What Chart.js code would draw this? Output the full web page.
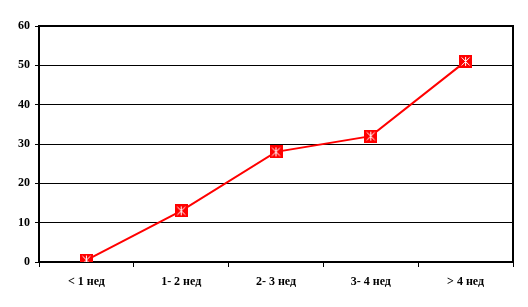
<!DOCTYPE html>
<html>
<head>
<meta charset="utf-8">
<script src="https://cdn.jsdelivr.net/npm/chart.js"></script>
<style>
  html, body { margin: 0; padding: 0; background: #fff; }
  #wrap { width: 528px; height: 307px; }
</style>
</head>
<body>
<div id="wrap"><canvas id="chart" width="528" height="307"></canvas></div>
<script>
const categories = ['< 1 нед', '1- 2 нед', '2- 3 нед', '3- 4 нед', '> 4 нед'];
const values = [0.5, 13, 28, 32, 51];
const yTicks = [0, 10, 20, 30, 40, 50, 60];

// red square marker with white star, like the old Excel style
function makeMarker() {
    const c = document.createElement('canvas');
    c.width = 13; c.height = 13;
    const g = c.getContext('2d');
    g.fillStyle = '#ff0000';
    g.fillRect(0, 0, 13, 13);
    g.strokeStyle = '#ffffff';
    g.lineWidth = 1;
    g.beginPath();
    g.moveTo(6.5, 2); g.lineTo(6.5, 11);
    g.moveTo(2.5, 2.5); g.lineTo(10.5, 10.5);
    g.moveTo(10.5, 2.5); g.lineTo(2.5, 10.5);
    g.stroke();
    return c;
}

const frame = {
    id: 'frame',
    afterDatasetsDraw(chart) {},
    beforeDatasetsDraw(chart) {
        const a = chart.chartArea;
        const ctx = chart.ctx;
        ctx.save();
        ctx.strokeStyle = '#000';
        ctx.lineWidth = 2;
        ctx.beginPath();
        ctx.moveTo(a.left, a.top);
        ctx.lineTo(a.right, a.top);
        ctx.lineTo(a.right, a.bottom);
        ctx.stroke();
        ctx.restore();
    }
};

const font = { family: '"Liberation Serif", "Times New Roman", serif', size: 12, weight: 'bold' };

new Chart(document.getElementById('chart'), {
    type: 'line',
    data: {
        labels: categories,
        datasets: [{
            data: values,
            borderColor: '#ff0000',
            borderWidth: 2,
            pointStyle: makeMarker(),
            tension: 0
        }]
    },
    options: {
        responsive: false,
        animation: false,
        layout: { padding: { top: 26, right: 15, left: 0, bottom: 0 } },
        plugins: { legend: { display: false }, tooltip: { enabled: false } },
        scales: {
            x: {
                offset: true,
                grid: { offset: true, drawOnChartArea: false, drawTicks: true, tickLength: 5, color: '#000', lineWidth: 1 },
                border: { color: '#000', width: 2 },
                ticks: { color: '#000', font: font, padding: 8 },
                afterFit(s) { s.height = 45; }
            },
            y: {
                min: 0,
                max: 60,
                afterBuildTicks(s) { s.ticks = yTicks.map(v => ({ value: v })); },
                grid: { color: '#000', lineWidth: 1, drawTicks: true, tickLength: 4 },
                border: { color: '#000', width: 2 },
                ticks: { color: '#000', font: font, padding: 5 },
                afterFit(s) { s.width = 39; }
            }
        }
    },
    plugins: [frame]
});
</script>
</body>
</html>
